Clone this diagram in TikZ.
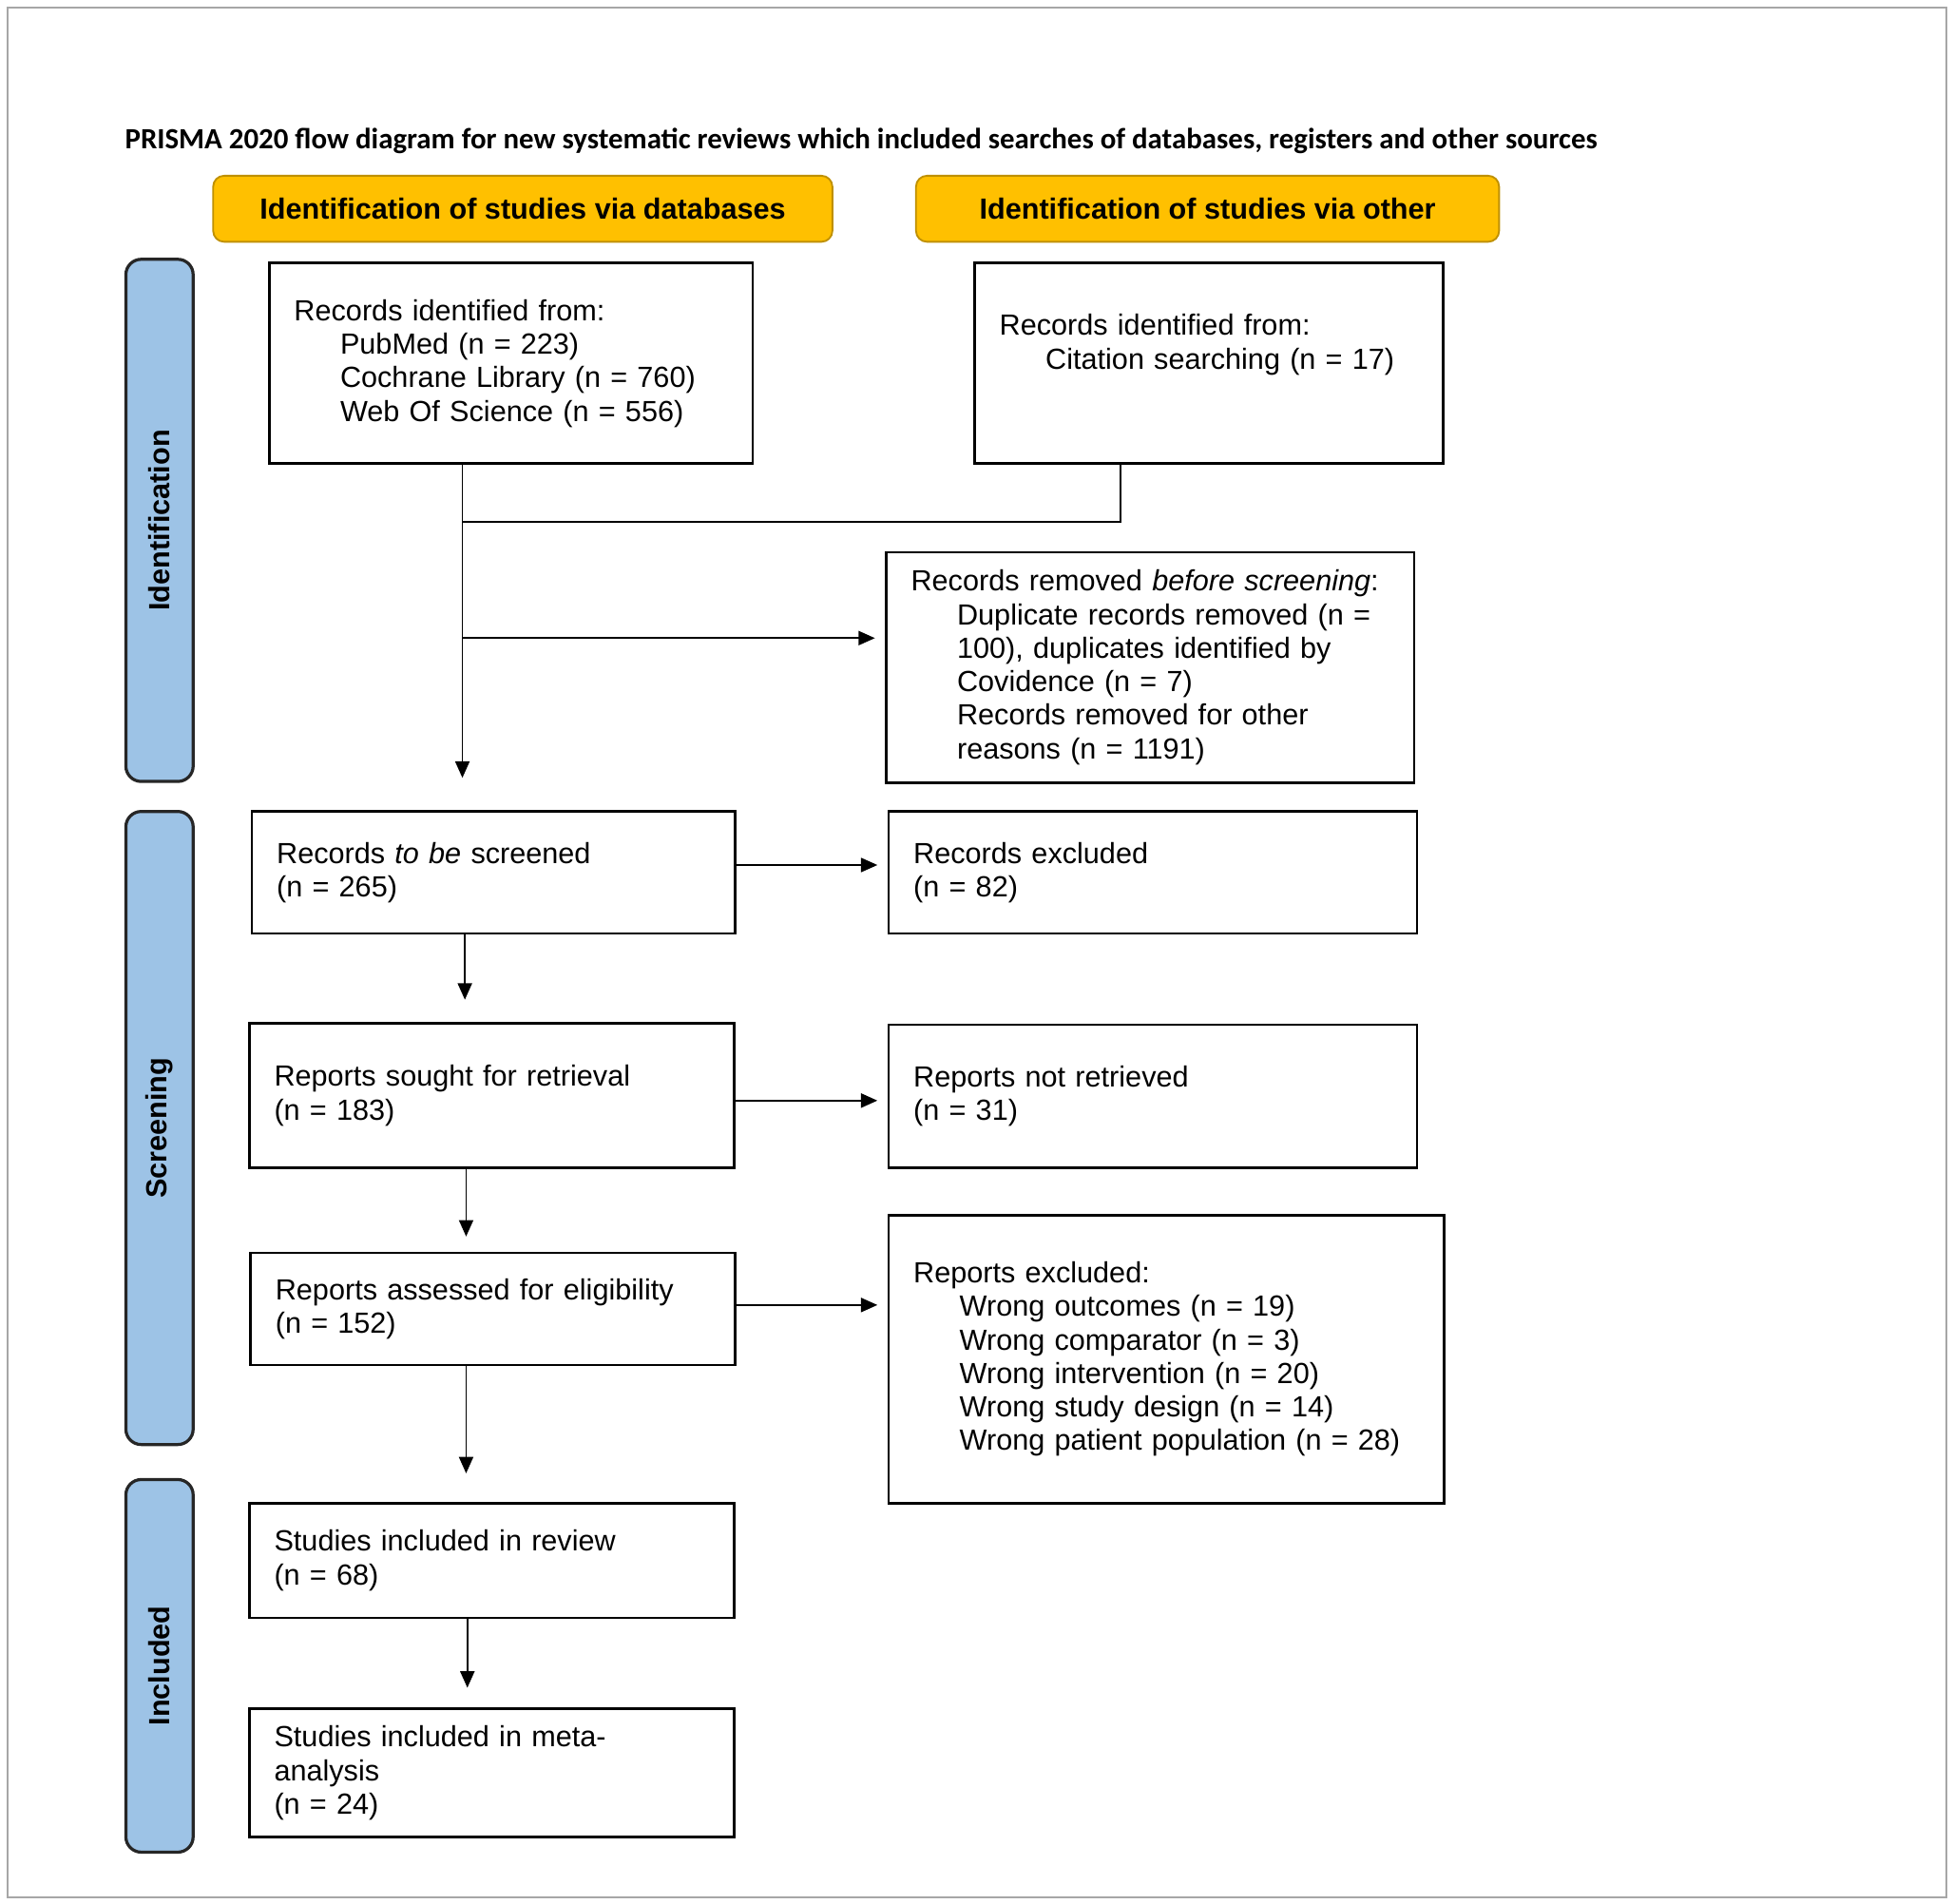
\documentclass[tikz,border=0pt]{standalone}
\usepackage{fontspec}
\setmainfont{Liberation Sans}
\newfontfamily\titlefont{Carlito}
\usetikzlibrary{arrows.meta,calc}

\definecolor{headyellow}{HTML}{FFC000}
\definecolor{headedge}{HTML}{BF9000}
\definecolor{sideblue}{HTML}{9DC3E6}
\newcommand{\ind}{\hspace*{0.74cm}}
\newcommand{\bodyfont}{\fontsize{13.3}{15.3}\selectfont}

\tikzset{
  box/.style={draw, line width=1.1pt, align=left, inner xsep=0.4cm, inner ysep=0pt, font=\bodyfont},
  head/.style={draw=headedge, fill=headyellow, line width=0.8pt, rounded corners=5pt, inner sep=0pt, font=\bodyfont\bfseries},
  side/.style={draw=black!85, fill=sideblue, line width=1.4pt, rounded corners=7pt, inner sep=0pt, rotate=90, minimum height=1.08cm, font=\bodyfont\bfseries},
  flow/.style={draw, line width=0.8pt, -{Triangle[length=7.5pt,width=6.5pt]}},
  link/.style={draw, line width=0.8pt},
}

\begin{document}
\begin{tikzpicture}[x=0.02cm,y=-0.02cm]
\useasboundingbox (0,0) rectangle (1568,1527);
\draw[gray!70, line width=1pt] (6,6) rectangle (1562,1522);
            % Title and headers
\node[anchor=west, inner sep=0pt, font=\titlefont\bfseries\fontsize{13.4}{15}\selectfont] (title) at (100,113)
  {PRISMA 2020 flow diagram for new systematic reviews which included searches of databases, registers and other sources};
\node[head, minimum width=9.94cm, minimum height=1.06cm] (hdb) at (419.5,167.5) {Identification of studies via databases};
\node[head, minimum width=9.36cm, minimum height=1.06cm] (hot) at (969,167.5) {Identification of studies via other};
%Phases
\node[side, minimum width=8.38cm]  (pid)  at (128,417.5)  {Identification};
\node[side, minimum width=10.16cm] (pscr) at (128,905)    {Screening};
\node[side, minimum width=5.98cm]  (pinc) at (128,1336.5) {Included};
%Boxes
\node[box, text width=6.96cm, minimum height=3.22cm] (rec) at (410,291.5)
  {Records identified from:\\\ind PubMed (n = 223)\\\ind Cochrane Library (n = 760)\\\ind Web Of Science (n = 556)};
\node[box, text width=6.72cm, minimum height=3.22cm] (oth) at (970,291.5)
  {Records identified from:\\\ind Citation searching (n = 17)\\\strut};
\node[box, text width=7.68cm, minimum height=3.70cm] (rem) at (923,535.5)
  {Records removed \textit{before screening}:\\\ind Duplicate records removed (n =\\\ind 100), duplicates identified by\\\ind Covidence (n = 7)\\\ind Records removed for other\\\ind reasons (n = 1191)};
\node[box, text width=6.96cm, minimum height=1.96cm] (scr) at (396,700)
  {Records \textit{to be} screened\\(n = 265)};
\node[box, text width=7.68cm, minimum height=1.96cm] (exc) at (925,700)
  {Records excluded\\(n = 82)};
\node[box, text width=6.98cm, minimum height=2.32cm] (sought) at (394.5,879)
  {Reports sought for retrieval\\(n = 183)};
\node[box, text width=7.68cm, minimum height=2.30cm] (notret) at (925,879.5)
  {Reports not retrieved\\(n = 31)};
\node[box, text width=6.98cm, minimum height=1.80cm] (elig) at (395.5,1050)
  {Reports assessed for eligibility\\(n = 152)};
\node[box, text width=8.12cm, minimum height=4.62cm] (excl) at (936,1090.5)
  {Reports excluded:\\\ind Wrong outcomes (n = 19)\\\ind Wrong comparator (n = 3)\\\ind Wrong intervention (n = 20)\\\ind Wrong study design (n = 14)\\\ind Wrong patient population (n = 28)};
\node[box, text width=6.98cm, minimum height=1.84cm] (incl) at (394.5,1252)
  {Studies included in review\\(n = 68)};
\node[box, text width=6.98cm, minimum height=2.06cm] (meta) at (394.5,1422.5)
  {Studies included in meta-\\analysis\\(n = 24)};
%Arrows
\draw[flow, shorten >=0.52cm] ([xshift=3.12cm]rec.south west) coordinate (s1) -- (s1 |- scr.north);
\draw[link] ([xshift=2.36cm]oth.south west) |- ($(s1)+(0,46)$);
\draw[flow, shorten >=0.16cm] ($(s1)+(0,139)$) coordinate (s2) -- (s2 -| rem.west);
\draw[flow, shorten >=0.16cm] ([yshift=0.12cm]scr.east) coordinate (e1) -- (e1 -| exc.west);
\draw[flow, shorten >=0.36cm] ([xshift=3.44cm]scr.south west) coordinate (s3) -- (s3 |- sought.north);
\draw[flow, shorten >=0.16cm] ([yshift=-0.08cm]sought.east) coordinate (e2) -- (e2 -| notret.west);
\draw[flow, shorten >=0.24cm] ([xshift=3.5cm]sought.south west) coordinate (s4) -- (s4 |- elig.north);
\draw[flow, shorten >=0.16cm] ([yshift=0.06cm]elig.east) coordinate (e3) -- (e3 -| excl.west);
\draw[flow, shorten >=0.46cm] ([xshift=3.48cm]elig.south west) coordinate (s5) -- (s5 |- incl.north);
\draw[flow, shorten >=0.32cm] ([xshift=3.52cm]incl.south west) coordinate (s6) -- (s6 |- meta.north);

\end{tikzpicture}
\end{document}
